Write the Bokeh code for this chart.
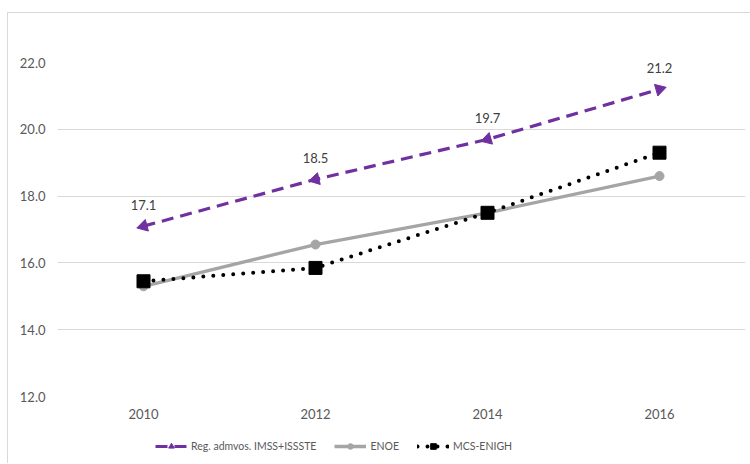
import math
import numpy as np
from bokeh.plotting import figure
from bokeh.layouts import column
from bokeh.models import (FactorRange, Range1d, FixedTicker, NumeralTickFormatter,
                          Legend, LegendItem, ColumnDataSource)
from bokeh.core.properties import value
from bokeh.embed import file_html
from bokeh.resources import INLINE

years = ["2010", "2012", "2014", "2016"]
reg_admvos = [17.1, 18.5, 19.7, 21.2]
enoe = [15.3, 16.55, 17.5, 18.6]
mcs_enigh = [15.45, 15.85, 17.5, 19.3]
y_ticks = [12, 14, 16, 18, 20, 22]
series_names = ["Reg. admvos. IMSS+ISSSTE", "ENOE", "MCS-ENIGH"]

FONT = "Lato"
PURPLE = "#7030A0"
GRAY = "#A5A5A5"
GRID = "#D9D9D9"

W, H = 743, 420
frame_left, frame_top, frame_w, frame_h = 49, 49, 688, 334

p = figure(width=W, height=H, x_range=FactorRange(factors=years, range_padding=0),
           y_range=Range1d(12, 22), output_backend="svg", toolbar_location=None,
           min_border_left=frame_left, min_border_right=W - frame_left - frame_w,
           min_border_top=frame_top, min_border_bottom=H - frame_top - frame_h)
p.margin = (12, 0, 0, 7)
p.styles = {"border-top": "1px solid #D9D9D9", "border-left": "1px solid #D9D9D9"}
p.outline_line_color = None
p.background_fill_color = "white"
p.border_fill_color = "white"

p.xgrid.grid_line_color = None
p.ygrid.grid_line_color = GRID
p.ygrid.grid_line_width = 1
p.yaxis.ticker = FixedTicker(ticks=y_ticks)
p.yaxis.formatter = NumeralTickFormatter(format="0.0")
for ax in (p.xaxis[0], p.yaxis[0]):
    ax.axis_line_color = None
    ax.major_tick_line_color = None
    ax.minor_tick_line_color = None
    ax.major_tick_out = 0
    ax.major_tick_in = 0
    ax.major_label_text_font = FONT
    ax.major_label_text_font_size = "13px"
    ax.major_label_text_color = "#595959"
p.yaxis.major_label_standoff = 12
p.xaxis.major_label_standoff = 12

# marker angles following line direction (arrow-like triangles)
px_per_unit = frame_h / (22 - 12)
px_per_step = frame_w / len(years)
vals = np.array(reg_admvos)
angles = []
for i in range(len(vals)):
    if i < len(vals) - 1:
        th = math.atan2((vals[i + 1] - vals[i]) * px_per_unit, px_per_step)
        angles.append(math.pi / 2 + th)
    else:
        th = math.atan2((vals[i] - vals[i - 1]) * px_per_unit, px_per_step)
        angles.append(th - math.pi / 2)

src_reg = ColumnDataSource(dict(x=years, y=reg_admvos, a=angles,
                                lbl=[f"{v:.1f}" for v in reg_admvos]))
src_enoe = ColumnDataSource(dict(x=years, y=enoe))
src_mcs = ColumnDataSource(dict(x=years, y=mcs_enigh))

reg_line = dict(line_color=PURPLE, line_width=3.2, line_dash="12 7")
reg_mark = dict(marker="triangle", size=12, fill_color=PURPLE, line_color=PURPLE)
enoe_line = dict(line_color=GRAY, line_width=3.3)
enoe_mark = dict(marker="circle", size=9, fill_color=GRAY, line_color=GRAY)
mcs_line = dict(line_color="black", line_width=4, line_dash="0 10", line_cap="round")
mcs_mark = dict(marker="square", size=13, fill_color="black", line_color="black")

p.line("x", "y", source=src_reg, **reg_line)
p.scatter("x", "y", source=src_reg, angle="a", **reg_mark)
p.line("x", "y", source=src_enoe, **enoe_line)
p.scatter("x", "y", source=src_enoe, **enoe_mark)
p.line("x", "y", source=src_mcs, **mcs_line)
p.scatter("x", "y", source=src_mcs, **mcs_mark)

p.text("x", "y", text="lbl", source=src_reg, text_align="center", text_baseline="middle",
       y_offset=-21, text_font=value(FONT), text_font_size="13px", text_color="#404040")

# legend strip below the chart
LH = 31
q = figure(width=W, height=LH, x_range=Range1d(0, 1), y_range=Range1d(0, 1),
           output_backend="svg", toolbar_location=None,
           x_axis_type=None, y_axis_type=None,
           min_border_left=0, min_border_right=0, min_border_top=0, min_border_bottom=0)
q.margin = (0, 0, 0, 7)
q.styles = {"border-left": "1px solid #D9D9D9"}
q.outline_line_color = None
q.xgrid.grid_line_color = None
q.ygrid.grid_line_color = None
q.background_fill_color = "white"
q.border_fill_color = "white"

items = []
for name, ls, ms in zip(series_names, [reg_line, enoe_line, mcs_line],
                        [reg_mark, enoe_mark, mcs_mark]):
    r1 = q.line("x", "y", source=ColumnDataSource(dict(x=[-5, -6], y=[-5, -6])), **ls)
    ms2 = dict(ms)
    ms2["size"] = ms["size"] * 0.75
    r2 = q.scatter("x", "y", source=ColumnDataSource(dict(x=[-5], y=[-5])), **ms2)
    items.append(LegendItem(label=name, renderers=[r1, r2]))

legend = Legend(items=items, orientation="horizontal", location=(98, 10),
                background_fill_alpha=0, border_line_color=None,
                label_text_font=FONT, label_text_font_size="10.5px",
                label_text_color="#595959", glyph_width=32, glyph_height=14,
                label_standoff=4, spacing=18, padding=0, margin=0)
q.add_layout(legend, "center")

layout = column(p, q, spacing=0)
open("out.html", "w").write(file_html(layout, INLINE))
